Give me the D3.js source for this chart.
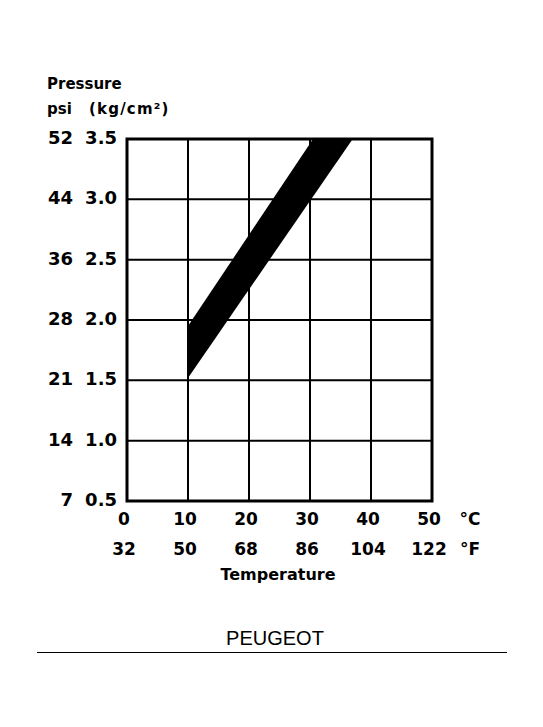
<!DOCTYPE html>
<html><head><meta charset="utf-8">
<script src="https://cdn.jsdelivr.net/npm/d3@7"></script>
<style>body{margin:0;background:#fff}</style>
</head><body>
<script>
// Data
const tempC = [0, 10, 20, 30, 40, 50];
const tempF = ["32", "50", "68", "86", "104", "122"];
const kgTicks = [0.5, 1.0, 1.5, 2.0, 2.5, 3.0, 3.5];
const psiTicks = ["7", "14", "21", "28", "36", "44", "52"];
// Band edges (°C, kg/cm²)
const bandUpper = [[10, 1.95], [30.5, 3.5]];
const bandLower = [[10, 1.52], [37, 3.5]];

const W = 543, H = 727;
const svg = d3.select("body").append("svg").attr("width", W).attr("height", H);
const x = d3.scaleLinear().domain([0, 50]).range([127, 432]);
const y = d3.scaleLinear().domain([0.5, 3.5]).range([501, 139]);
const font = "DejaVu Sans";

// grid
const g = svg.append("g");
g.selectAll("line.v").data(tempC.slice(1, -1)).join("line")
  .attr("x1", d => x(d)).attr("x2", d => x(d)).attr("y1", y(3.5)).attr("y2", y(0.5))
  .attr("stroke", "#000").attr("stroke-width", 2);
g.selectAll("line.h").data(kgTicks.slice(1, -1)).join("line")
  .attr("y1", d => y(d)).attr("y2", d => y(d)).attr("x1", x(0)).attr("x2", x(50))
  .attr("stroke", "#000").attr("stroke-width", 2);

// band
const poly = [bandLower[0], bandUpper[0], bandUpper[1], bandLower[1]];
svg.append("path")
  .attr("d", d3.line().x(d => x(d[0])).y(d => y(d[1]))(poly) + "Z")
  .attr("fill", "#000");

// frame
svg.append("rect").attr("x", x(0)).attr("y", y(3.5))
  .attr("width", x(50) - x(0)).attr("height", y(0.5) - y(3.5))
  .attr("fill", "none").attr("stroke", "#000").attr("stroke-width", 3);

// y labels
svg.selectAll("text.psi").data(kgTicks).join("text")
  .attr("x", 73).attr("y", d => y(d) + 5).attr("text-anchor", "end")
  .attr("font-family", font).attr("font-weight", "bold").attr("font-size", 18)
  .text((d, i) => psiTicks[i]);
svg.selectAll("text.kg").data(kgTicks).join("text")
  .attr("x", 117).attr("y", d => y(d) + 5).attr("text-anchor", "end")
  .attr("font-family", font).attr("font-weight", "bold").attr("font-size", 18)
  .text(d => d.toFixed(1));

svg.append("text").attr("x", 47).attr("y", 89)
  .attr("font-family", font).attr("font-weight", "bold").attr("font-size", 15).text("Pressure");
svg.append("text").attr("x", 47).attr("y", 114)
  .attr("font-family", font).attr("font-weight", "bold").attr("font-size", 15).text("psi");
svg.append("text").attr("x", 89).attr("y", 114).attr("letter-spacing", 1.2)
  .attr("font-family", font).attr("font-weight", "bold").attr("font-size", 15).text("(kg/cm²)");

// x labels
svg.selectAll("text.c").data(tempC).join("text")
  .attr("x", d => x(d) - 3).attr("y", 525).attr("text-anchor", "middle")
  .attr("font-family", font).attr("font-weight", "bold").attr("font-size", 17)
  .text(d => d);
svg.selectAll("text.f").data(tempC).join("text")
  .attr("x", d => x(d) - 3).attr("y", 555).attr("text-anchor", "middle")
  .attr("font-family", font).attr("font-weight", "bold").attr("font-size", 17)
  .text((d, i) => tempF[i]);
svg.append("text").attr("x", 470).attr("y", 525).attr("text-anchor", "middle")
  .attr("font-family", font).attr("font-weight", "bold").attr("font-size", 17).text("°C");
svg.append("text").attr("x", 470).attr("y", 555).attr("text-anchor", "middle")
  .attr("font-family", font).attr("font-weight", "bold").attr("font-size", 17).text("°F");
svg.append("text").attr("x", 278).attr("y", 580).attr("text-anchor", "middle")
  .attr("font-family", font).attr("font-weight", "bold").attr("font-size", 16).text("Temperature");

// footer
svg.append("text").attr("x", 275).attr("y", 645).attr("text-anchor", "middle")
  .attr("font-family", "Liberation Sans").attr("font-size", 20).text("PEUGEOT");
svg.append("line").attr("x1", 37).attr("x2", 507).attr("y1", 652.5).attr("y2", 652.5)
  .attr("stroke", "#000").attr("stroke-width", 1);
</script>
</body></html>
